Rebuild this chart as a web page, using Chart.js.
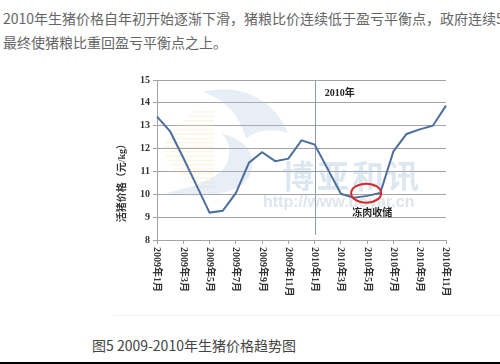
<!DOCTYPE html>
<html lang="zh">
<head>
<meta charset="UTF-8" />
<title>2009-2010年生猪价格趋势图</title>
<script src="https://cdn.jsdelivr.net/npm/chart.js@4.4.0/dist/chart.umd.min.js"></script>
<style>
  body { margin: 0; width: 500px; height: 364px; background: #fff; position: relative; overflow: hidden; font-family: "Noto Sans CJK SC", sans-serif; }
  #intro { position: absolute; left: 3px; top: 6px; width: 497px; font-size: 14px; line-height: 24px; color: #666; white-space: nowrap; overflow: hidden; }
  #box { position: absolute; left: 100px; top: 60px; width: 370px; height: 250px; }
  #frame { position: absolute; left: 113px; top: 315px; width: 387px; height: 1px; background: #f2f2f2; }
  #caption { position: absolute; left: 92px; top: 335px; font-size: 14px; line-height: 20px; color: #444; white-space: nowrap; }
  #rule { position: absolute; left: 0; top: 362px; width: 500px; height: 2px; background: #000; }
</style>
</head>
<body>
<div id="intro">2010年生猪价格自年初开始逐渐下滑，猪粮比价连续低于盈亏平衡点，政府连续5次<br />最终使猪粮比重回盈亏平衡点之上。</div>
<div id="box"><canvas id="chart" width="370" height="250"></canvas></div>
<div id="frame"></div>
<div id="caption">图5 2009-2010年生猪价格趋势图</div>
<div id="rule"></div>

<script>
  // monthly hog prices, yuan/kg
  const months = [
    "2009年1月", "2009年2月", "2009年3月", "2009年4月", "2009年5月", "2009年6月",
    "2009年7月", "2009年8月", "2009年9月", "2009年10月", "2009年11月", "2009年12月",
    "2010年1月", "2010年2月", "2010年3月", "2010年4月", "2010年5月", "2010年6月",
    "2010年7月", "2010年8月", "2010年9月", "2010年10月", "2010年11月"
  ];
  const prices = [
    13.4, 12.75, 11.6, 10.4, 9.2, 9.28, 10.05, 11.38, 11.84, 11.45, 11.56, 12.36,
    12.18, 11.1, 10.02, 9.85, 9.93, 10.06, 11.88, 12.64, 12.84, 13.0, 13.88
  ];
  const yMin = 8;
  const yMax = 15;
  const yTitle = "活猪价格（元/kg）";
  const yearMark = "2010年";
  const yearIndex = 12;
  const noteText = "冻肉收储";
  const noteIndex = 16;

  const serif = '"Liberation Serif", "Noto Sans CJK SC", serif';
  const gridColor = "#a4a4a4";

  const decor = {
    id: "decor",
    beforeDatasetsDraw(chart) {
      const ctx = chart.ctx;
      const ys = chart.scales.y;
      const xs = chart.scales.x;
      // image coords -> canvas coords
      const ox = -100, oy = -60;
      ctx.save();
      ctx.translate(ox, oy);
      // yellow streaks of the logo
      ctx.strokeStyle = "rgba(240, 222, 170, 0.3)";
      ctx.lineWidth = 1.5;
      for (let k = 0; k < 18; k++) {
        const y = 112 + k * 4.4;
        const len = 20 + 30 * Math.sin((k / 17) * Math.PI);
        ctx.beginPath();
        ctx.moveTo(214 - len, y);
        ctx.lineTo(214, y);
        ctx.stroke();
      }
      // blue swoosh
      ctx.fillStyle = "rgba(180, 200, 222, 0.3)";
      ctx.beginPath();
      ctx.moveTo(203, 92);
      ctx.bezierCurveTo(240, 82, 275, 100, 288, 133);
      ctx.bezierCurveTo(270, 128, 256, 130, 246, 139);
      ctx.bezierCurveTo(240, 115, 225, 100, 203, 92);
      ctx.closePath();
      ctx.fill();
      ctx.beginPath();
      ctx.moveTo(222, 134);
      ctx.bezierCurveTo(252, 140, 260, 165, 246, 181);
      ctx.bezierCurveTo(232, 196, 200, 198, 165, 193);
      ctx.bezierCurveTo(200, 186, 224, 176, 228, 160);
      ctx.bezierCurveTo(231, 150, 229, 141, 222, 134);
      ctx.closePath();
      ctx.fill();
      // watermark text
      ctx.fillStyle = "rgba(170, 194, 218, 0.4)";
      ctx.font = 'bold 32px "Noto Sans CJK SC", sans-serif';
      ctx.textBaseline = "middle";
      ctx.textAlign = "left";
      "博亚和讯".split("").forEach((c, k) => ctx.fillText(c, 282 + k * 35, 176));
      ctx.fillStyle = "rgba(178, 194, 212, 0.42)";
      ctx.font = 'bold 16px "Liberation Sans", sans-serif';
      ctx.fillText("http://www.boyar.cn", 263, 203);
      ctx.restore();

      // 2010 divider
      const vx = Math.round(xs.getPixelForValue(yearIndex)) + 0.5;
      ctx.save();
      ctx.strokeStyle = "#8e9bb0";
      ctx.lineWidth = 1;
      ctx.beginPath();
      ctx.moveTo(vx, ys.getPixelForValue(yMax));
      ctx.lineTo(vx, ys.getPixelForValue(8.22));
      ctx.stroke();
      ctx.restore();
    },
    afterDatasetsDraw(chart) {
      const ctx = chart.ctx;
      const ys = chart.scales.y;
      const xs = chart.scales.x;
      ctx.save();
      ctx.fillStyle = "#222";
      ctx.font = "bold 10px " + serif;
      ctx.textBaseline = "middle";
      ctx.textAlign = "left";
      ctx.fillText(yearMark, xs.getPixelForValue(yearIndex) + 10, ys.getPixelForValue(14.4));
      ctx.strokeStyle = "#d8282a";
      ctx.lineWidth = 2;
      ctx.beginPath();
      ctx.ellipse(xs.getPixelForValue(noteIndex) - 1, ys.getPixelForValue(10.05), 15, 9.5, 0, 0, Math.PI * 2);
      ctx.stroke();
      ctx.textAlign = "center";
      ctx.fillText(noteText, xs.getPixelForValue(noteIndex) + 5, ys.getPixelForValue(9.15));
      ctx.restore();
    },
    afterDraw(chart) {
      const ctx = chart.ctx;
      const xs = chart.scales.x;
      const ys = chart.scales.y;
      ctx.save();
      ctx.fillStyle = "#333";
      ctx.font = "bold 10px " + serif;
      ctx.textBaseline = "middle";
      ctx.textAlign = "left";
      months.forEach((m, i) => {
        if (i % 2) return;
        ctx.save();
        ctx.translate(xs.getPixelForValue(i), ys.bottom + 7);
        ctx.rotate(Math.PI / 2);
        ctx.fillText(m, 0, 0);
        ctx.restore();
      });
      ctx.translate(22, ys.getPixelForValue(10.6));
      ctx.rotate(-Math.PI / 2);
      ctx.textAlign = "center";
      ctx.fillText(yTitle, 0, 0);
      ctx.restore();
    }
  };

  new Chart(document.getElementById("chart"), {
    type: "line",
    data: {
      labels: months,
      datasets: [{
        data: prices,
        borderColor: "#4e6e9c",
        borderWidth: 2,
        pointRadius: 0,
        tension: 0,
        fill: false
      }]
    },
    options: {
      responsive: false,
      animation: false,
      layout: { padding: { top: 20, right: 24, left: 0, bottom: 0 } },
      plugins: { legend: { display: false }, tooltip: { enabled: false } },
      scales: {
        x: {
          type: "category",
          offset: false,
          afterFit(scale) { scale.height = 70; },
          grid: {
            drawOnChartArea: false,
            drawTicks: true,
            tickLength: 4,
            tickColor: (c) => (c.index % 2 === 0 ? gridColor : "rgba(0,0,0,0)")
          },
          border: { color: gridColor },
          ticks: { display: false, autoSkip: false, maxRotation: 0 }
        },
        y: {
          min: yMin,
          max: yMax,
          afterFit(scale) { scale.width = 57; },
          grid: { color: gridColor, tickLength: 4, tickColor: gridColor },
          border: { color: gridColor },
          ticks: {
            stepSize: 1,
            padding: 3,
            color: "#333",
            font: { family: serif, size: 10, weight: "bold" }
          }
        }
      }
    },
    plugins: [decor]
  });
</script>
</body>
</html>
